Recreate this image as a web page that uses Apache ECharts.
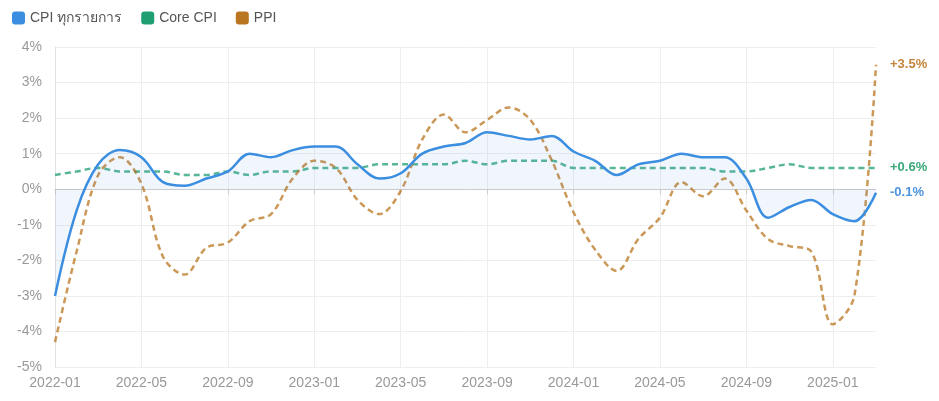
<!DOCTYPE html>
<html>
<head>
<meta charset="utf-8">
<script src="https://cdn.jsdelivr.net/npm/echarts@6/dist/echarts.min.js"></script>
<style>
  html, body { margin: 0; padding: 0; background: #fff; }
  #chart { width: 939px; height: 401px; }
</style>
</head>
<body>
<div id="chart"></div>
<script>
const months = [
    '2022-01','2022-02','2022-03','2022-04','2022-05','2022-06','2022-07','2022-08','2022-09','2022-10','2022-11','2022-12',
    '2023-01','2023-02','2023-03','2023-04','2023-05','2023-06','2023-07','2023-08','2023-09','2023-10','2023-11','2023-12',
    '2024-01','2024-02','2024-03','2024-04','2024-05','2024-06','2024-07','2024-08','2024-09','2024-10','2024-11','2024-12',
    '2025-01','2025-02','2025-03'
];
const cpi = [
    -3.0, -0.6, 0.7, 1.1, 0.9, 0.2, 0.1, 0.3, 0.5, 1.0, 0.9, 1.1,
    1.2, 1.2, 0.7, 0.3, 0.45, 1.0, 1.2, 1.3, 1.6, 1.5, 1.4, 1.5,
    1.06, 0.8, 0.4, 0.7, 0.8, 1.0, 0.9, 0.9, 0.3, -0.8, -0.5, -0.3,
    -0.7, -0.9, -0.1
];
const coreCpi = [
    0.4, 0.5, 0.6, 0.5, 0.5, 0.5, 0.4, 0.4, 0.5, 0.4, 0.5, 0.5,
    0.6, 0.6, 0.6, 0.7, 0.7, 0.7, 0.7, 0.8, 0.7, 0.8, 0.8, 0.8,
    0.6, 0.6, 0.6, 0.6, 0.6, 0.6, 0.6, 0.5, 0.5, 0.6, 0.7, 0.6,
    0.6, 0.6, 0.6
];
const ppi = [
    -4.3, -1.75, 0.4, 0.9, 0.15, -1.9, -2.4, -1.65, -1.5, -0.9, -0.7, 0.3,
    0.8, 0.6, -0.3, -0.7, -0.05, 1.4, 2.1, 1.6, 1.95, 2.3, 1.95, 0.8,
    -0.65, -1.7, -2.3, -1.4, -0.8, 0.2, -0.2, 0.3, -0.6, -1.4, -1.6, -1.75,
    -3.8, -3.0, 3.5
];

const colors = ['#3b8ee0', '#1f9e72', '#b97520'];

function endLabel(color) {
    return {
        show: true,
        distance: 10,
        color: color,
        fontWeight: 'bold',
        fontSize: 13,
        backgroundColor: 'rgba(255,255,255,0.85)',
        padding: [3, 4],
        borderRadius: 3,
        formatter: p => {
            const v = p.value;
            return (v > 0 ? '+' : '') + v.toFixed(1) + '%';
        }
    };
}

const chart = echarts.init(document.getElementById('chart'));
chart.setOption({
    animation: false,
    textStyle: { fontFamily: '"Liberation Sans", Arial, sans-serif' },
    color: colors,
    legend: {
        left: 7,
        top: 6,
        icon: 'roundRect',
        itemWidth: 13,
        itemHeight: 13,
        itemGap: 19,
        textStyle: { color: '#555', fontSize: 14 },
        data: ['CPI ทุกรายการ', 'Core CPI', 'PPI']
    },
    grid: { left: 55, right: 63, top: 47, bottom: 34 },
    xAxis: {
        type: 'category',
        data: months,
        boundaryGap: false,
        axisLine: { lineStyle: { color: '#ccc' } },
        axisTick: { show: true, interval: 3, length: 5, lineStyle: { color: '#ccc' } },
        axisLabel: { interval: 3, color: '#999', fontSize: 14, margin: 9 },
        splitLine: { show: true, interval: 3, lineStyle: { color: '#eee' } }
    },
    yAxis: {
        type: 'value',
        min: -5,
        max: 4,
        interval: 1,
        axisLine: { show: true, lineStyle: { color: '#e2e2e2' } },
        axisLabel: { color: '#999', fontSize: 14, margin: 13, formatter: '{value}%' },
        splitLine: { lineStyle: { color: '#eee' } }
    },
    series: [
        {
            name: 'CPI ทุกรายการ',
            type: 'line',
            data: cpi,
            smooth: 0.35,
            symbol: 'none',
            lineStyle: { width: 2.5, color: colors[0] },
            areaStyle: { color: 'rgba(59,130,220,0.1)' },
            endLabel: endLabel('#4a94e0'),
            z: 3
        },
        {
            name: 'Core CPI',
            type: 'line',
            data: coreCpi,
            smooth: 0.35,
            symbol: 'none',
            lineStyle: { width: 2.5, type: [6, 4], color: colors[1], opacity: 0.75 },
            endLabel: endLabel('#3aa87b'),
            z: 2
        },
        {
            name: 'PPI',
            type: 'line',
            data: ppi,
            smooth: 0.35,
            symbol: 'none',
            lineStyle: { width: 2.5, type: [6, 4], color: colors[2], opacity: 0.75 },
            endLabel: endLabel('#c4843a'),
            z: 2
        }
    ]
});
</script>
</body>
</html>
